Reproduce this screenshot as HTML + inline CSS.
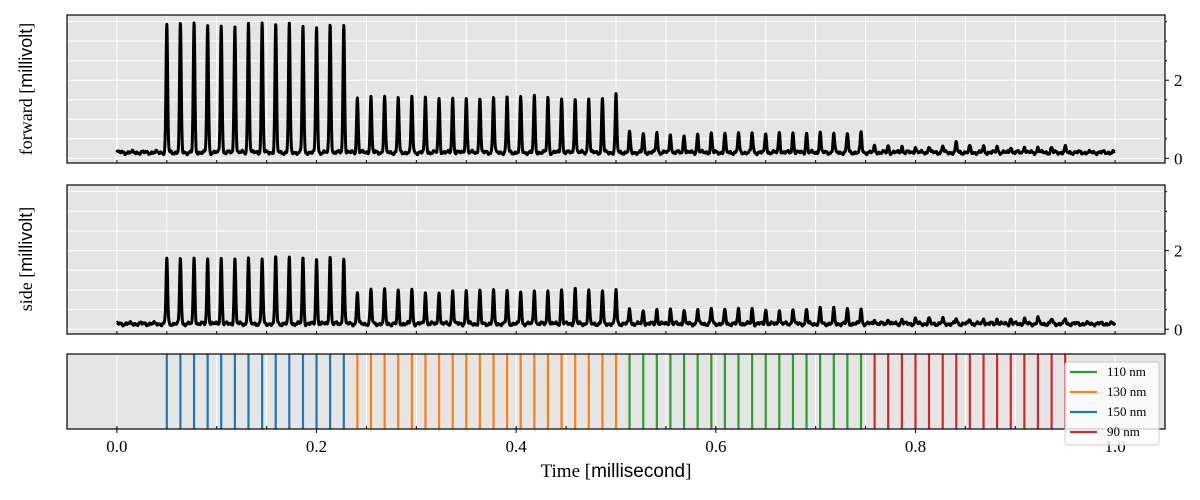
<!DOCTYPE html>
<html><head><meta charset="utf-8"><style>
html,body{margin:0;padding:0;background:#fff;}
svg{display:block;}
text{font-family:"Liberation Serif",serif;fill:#000;}
.sans{font-family:"Liberation Sans",sans-serif;}
</style></head><body>
<svg id="chart" width="1200" height="500" viewBox="0 0 1200 500"></svg>
<script>
const peakTimes=[0.0500,0.0636,0.0773,0.0909,0.1045,0.1182,0.1318,0.1455,0.1591,0.1727,0.1864,0.2000,0.2136,0.2273,
0.2409,0.2545,0.2682,0.2818,0.2955,0.3091,0.3227,0.3364,0.3500,0.3636,0.3773,0.3909,0.4045,0.4182,0.4318,0.4455,0.4591,0.4727,0.4864,0.5000,
0.5136,0.5273,0.5409,0.5545,0.5682,0.5818,0.5955,0.6091,0.6227,0.6364,0.6500,0.6636,0.6773,0.6909,0.7045,0.7182,0.7318,0.7455,
0.7591,0.7727,0.7864,0.8000,0.8136,0.8273,0.8409,0.8545,0.8682,0.8818,0.8955,0.9091,0.9227,0.9364,0.9500];
const peakSizes=["150 nm","150 nm","150 nm","150 nm","150 nm","150 nm","150 nm","150 nm","150 nm","150 nm","150 nm","150 nm","150 nm","150 nm",
"130 nm","130 nm","130 nm","130 nm","130 nm","130 nm","130 nm","130 nm","130 nm","130 nm","130 nm","130 nm","130 nm","130 nm","130 nm","130 nm","130 nm","130 nm","130 nm","130 nm",
"110 nm","110 nm","110 nm","110 nm","110 nm","110 nm","110 nm","110 nm","110 nm","110 nm","110 nm","110 nm","110 nm","110 nm","110 nm","110 nm","110 nm","110 nm",
"90 nm","90 nm","90 nm","90 nm","90 nm","90 nm","90 nm","90 nm","90 nm","90 nm","90 nm","90 nm","90 nm","90 nm","90 nm"];
const forwardHeights=[3.24,3.28,3.30,3.26,3.27,3.27,3.32,3.31,3.28,3.27,3.25,3.22,3.29,3.27,
1.42,1.42,1.44,1.42,1.42,1.41,1.39,1.39,1.40,1.42,1.41,1.42,1.41,1.42,1.40,1.41,1.40,1.40,1.40,1.46,
0.50,0.48,0.52,0.48,0.47,0.47,0.48,0.48,0.48,0.50,0.50,0.52,0.50,0.51,0.52,0.49,0.49,0.51,
0.15,0.18,0.16,0.15,0.17,0.16,0.24,0.15,0.14,0.16,0.16,0.17,0.14,0.12,0.13];
const sideHeights=[1.65,1.68,1.70,1.66,1.67,1.66,1.67,1.65,1.72,1.67,1.68,1.65,1.72,1.68,
0.82,0.85,0.86,0.84,0.86,0.82,0.84,0.86,0.84,0.84,0.82,0.84,0.84,0.86,0.86,0.88,0.88,0.84,0.84,0.86,
0.38,0.35,0.36,0.38,0.36,0.36,0.38,0.36,0.36,0.38,0.38,0.36,0.38,0.38,0.38,0.37,0.38,0.38,
0.12,0.14,0.12,0.12,0.13,0.12,0.12,0.13,0.14,0.12,0.13,0.12,0.16,0.12,0.12];
const xTickLabels=["0.0","0.2","0.4","0.6","0.8","1.0"];
const xTickValues=[0,0.2,0.4,0.6,0.8,1.0];
const yTickValues=[0,2];
const legendLabels=["110 nm","130 nm","150 nm","90 nm"];
const colors={"110 nm":"#2ca02c","130 nm":"#ff7f0e","150 nm":"#1f77b4","90 nm":"#d62728"};

const NS="http://www.w3.org/2000/svg";
const svg=document.getElementById('chart');
function mk(tag,attrs,parent){const e=document.createElementNS(NS,tag);for(const k in attrs)e.setAttribute(k,attrs[k]);(parent||svg).appendChild(e);return e;}
const X0=67,X1=1165,XMIN=-0.05,XMAX=1.05;
const xs=v=>X0+(v-XMIN)/(XMAX-XMIN)*(X1-X0);
const YMIN=-0.12,YMAX=3.67;
function panel(top,bottom,name){
  const ys=v=>bottom-(v-YMIN)/(YMAX-YMIN)*(bottom-top);
  const g=mk('g',{});
  
  
  mk('rect',{x:X0,y:top,width:X1-X0,height:bottom-top,fill:'#e5e5e5'},g);
  for(let v=0;v<=3.51;v+=0.5){const y=ys(v);mk('line',{x1:X0,x2:X1,y1:y,y2:y,stroke:'#fff','stroke-width':1},g);
    mk('line',{x1:X1,x2:X1+(Math.abs(v%2)<0.01?4:2),y1:y,y2:y,stroke:'#000','stroke-width':1},g);}
  for(let v=-0.05;v<=1.051;v+=0.05){const x=xs(v);mk('line',{x1:x,x2:x,y1:top,y2:bottom,stroke:'#fff','stroke-width':1},g);
    mk('line',{x1:x,x2:x,y1:bottom,y2:bottom-3,stroke:'#000','stroke-width':1},g);}
  return {g,ys};
}
function trace(p,heights,base,name,ph){
  let d='';
  for(let i=0;i<=4000;i++){
    const t=i*0.00025;
    let v=base+0.025*Math.sin(t*517+ph)+0.02*Math.sin(t*1311+2*ph)+0.015*Math.sin(t*2917);
    for(let k=0;k<peakTimes.length;k++){const dt=(t-peakTimes[k])/0.0008;if(Math.abs(dt)<6)v+=heights[k]*Math.exp(-dt*dt/2);}
    d+=(i?'L':'M')+xs(t).toFixed(2)+','+p.ys(v).toFixed(2);
  }
  const path=mk('path',{d:d,fill:'none',stroke:'#000','stroke-width':3,'stroke-linejoin':'round'},p.g);
  
  
}
const p1=panel(15,163,'forward-panel');
trace(p1,forwardHeights,0.15,'forward-trace',0);
mk('rect',{x:X0,y:15,width:X1-X0,height:148,fill:'none',stroke:'#000','stroke-width':1.2},p1.g);
const p2=panel(185,334,'side-panel');
trace(p2,sideHeights,0.14,'side-trace',1.3);
mk('rect',{x:X0,y:185,width:X1-X0,height:149,fill:'none',stroke:'#000','stroke-width':1.2},p2.g);
[[p1,'forward'],[p2,'side']].forEach(([p,nm])=>{
  yTickValues.forEach(v=>{const t=mk('text',{x:1174,y:p.ys(v)+6,'font-size':17},p.g);t.textContent=String(v);
    });
});
function ylab(cy,word,name){
  const t=mk('text',{transform:`translate(32,${cy}) rotate(-90)`,'text-anchor':'middle','font-size':18});
  
  const a=mk('tspan',{},t);a.textContent=word+' [';
  const b=mk('tspan',{class:'sans'},t);b.textContent='millivolt';
  const c=mk('tspan',{},t);c.textContent=']';
}
ylab(89,'forward','forward-y-axis-title');
ylab(259,'side','side-y-axis-title');
const g3=mk('g',{});


mk('rect',{x:X0,y:354,width:X1-X0,height:75,fill:'#e5e5e5'},g3);
for(let v=-0.05;v<=1.051;v+=0.05){const x=xs(v);mk('line',{x1:x,x2:x,y1:354,y2:429,stroke:'#fff','stroke-width':1},g3);
  mk('line',{x1:x,x2:x,y1:429,y2:426,stroke:'#000','stroke-width':1},g3);}
peakTimes.forEach((t,i)=>{const l=mk('line',{x1:xs(t),x2:xs(t),y1:354,y2:429,stroke:colors[peakSizes[i]],'stroke-width':2.2},g3);
  });
mk('rect',{x:X0,y:354,width:X1-X0,height:75,fill:'none',stroke:'#000','stroke-width':1.2},g3);
xTickValues.forEach((v,i)=>{const x=xs(v);mk('line',{x1:x,x2:x,y1:429,y2:433,stroke:'#000','stroke-width':1});
  const t=mk('text',{x:x,y:452,'text-anchor':'middle','font-size':17});t.textContent=xTickLabels[i];
  });
const xl=mk('text',{x:616,y:477,'text-anchor':'middle','font-size':19});

(()=>{const a=mk('tspan',{},xl);a.textContent='Time [';const b=mk('tspan',{class:'sans'},xl);b.textContent='millisecond';const c=mk('tspan',{},xl);c.textContent=']';})();
const lg=mk('g',{});


mk('rect',{x:1065,y:362,width:94,height:83,rx:3,fill:'#fff','fill-opacity':0.8,stroke:'#ccc','stroke-width':1},lg);
legendLabels.forEach((lab,i)=>{const y=372+i*20;
  const e=mk('g',{},lg);
  
  
  mk('line',{x1:1070,x2:1097,y1:y,y2:y,stroke:colors[lab],'stroke-width':2.2},e);
  const t=mk('text',{x:1107,y:y+4,'font-size':13},e);t.textContent=lab;});
</script>
</body></html>
